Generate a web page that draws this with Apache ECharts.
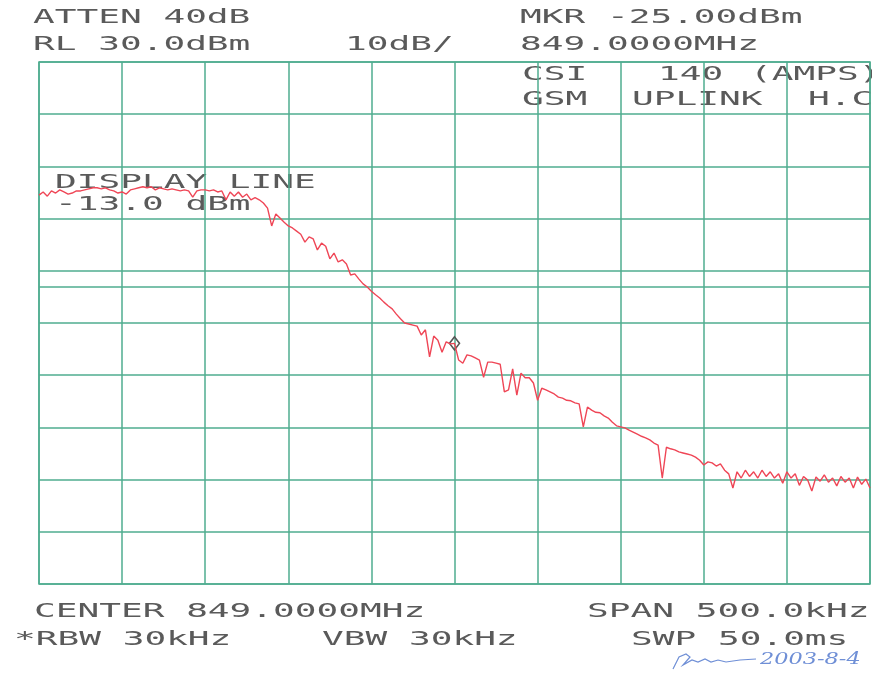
<!DOCTYPE html>
<html>
<head>
<meta charset="utf-8">
<script src="https://cdn.jsdelivr.net/npm/echarts@6/dist/echarts.min.js"></script>
<style>
html,body{margin:0;padding:0;background:#fff;}
#c{width:872px;height:674px;}
</style>
</head>
<body>
<div id="c"></div>
<script>
// Sweep: center 849.0000 MHz, span 500 kHz, 201 trace points (offset in kHz from center)
const spanStartKHz = -250;
const spanStepKHz = 2.5;
// Trace amplitudes in dBm
const traceDbm = [
 4.5,5.1,4.3,5.3,4.9,5.5,5.1,4.7,4.9,5.3,
 5.3,5.5,5.7,5.9,5.9,5.7,5.9,5.5,5.3,4.9,
 5.1,4.7,5.5,5.7,5.9,6.1,5.9,6.1,5.5,5.9,
 5.7,5.5,5.7,5.5,5.3,5.5,5.3,4.1,5.3,5.5,
 5.5,5.3,5.5,5.1,5.3,3.6,5.1,4.3,5.1,4.1,
 4.7,3.6,4.0,3.6,3.0,2.0,-1.4,0.9,0.1,-0.7,
 -1.4,-1.8,-2.4,-3.0,-4.5,-3.5,-3.9,-6.0,-4.7,-5.3,
 -7.7,-6.6,-8.3,-7.9,-8.7,-10.8,-10.6,-11.6,-12.5,-13.1,
 -13.9,-14.6,-15.2,-16.0,-16.7,-17.3,-18.3,-19.2,-20.0,-20.2,
 -20.4,-20.6,-22.3,-21.3,-26.5,-22.5,-23.3,-25.6,-23.6,-24.0,
 -23.9,-27.1,-27.7,-26.1,-26.3,-26.7,-27.1,-30.4,-27.5,-27.5,
 -27.7,-27.9,-33.2,-32.8,-28.8,-33.8,-29.6,-30.5,-30.5,-31.5,
 -34.8,-32.5,-32.8,-33.2,-33.6,-34.2,-34.4,-34.8,-34.9,-35.3,
 -35.5,-39.9,-36.1,-36.7,-37.1,-37.2,-37.8,-38.2,-39.0,-39.7,
 -39.9,-40.1,-40.5,-40.9,-41.3,-41.7,-42.0,-42.4,-43.0,-43.4,
 -49.7,-43.8,-44.1,-44.3,-44.7,-44.9,-45.1,-45.3,-45.7,-46.3,
 -47.2,-46.6,-46.8,-47.4,-47.0,-48.2,-48.9,-51.6,-48.5,-49.7,
 -48.2,-49.4,-48.5,-49.7,-48.2,-49.4,-48.5,-49.7,-48.9,-50.7,
 -48.5,-49.7,-48.9,-51.1,-49.4,-50.1,-52.2,-49.5,-50.3,-49.1,
 -50.5,-49.7,-51.2,-49.4,-50.5,-49.7,-51.6,-49.5,-50.9,-49.9,
 -51.6
];
// Marker (at center frequency) and display line
const markerKHz = 0;
const markerDbm = -23.9;
const displayLineDbm = -13.0;
// Axis: reference level 30 dBm, 10 dB/div, 10 divisions
const yTop = 30, yBottom = -70, yStep = 10;
const xMin = -250, xMax = 250, xStep = 50;

const traceData = traceDbm.map((v, i) => [spanStartKHz + i * spanStepKHz, v]);

const GREEN = '#4fac8f';
const INK = '#5a5a5a';
const FONT = '"DejaVu Sans Mono", "Liberation Mono", monospace';
const FS = 19;
const SX = 1.9;

function label(text, x, y, extra) {
  return Object.assign({
    type: 'text', x: x, y: y, scaleX: SX, scaleY: 1,
    style: { text: text, fill: INK, font: FS + 'px ' + FONT, textAlign: 'left', textVerticalAlign: 'middle' }
  }, extra || {});
}

const chart = echarts.init(document.getElementById('c'), null, { renderer: 'canvas' });
chart.setOption({
  animation: false,
  backgroundColor: '#ffffff',
  grid: { left: 39, right: 2, top: 62, bottom: 90, show: true, borderColor: GREEN, borderWidth: 1.5, backgroundColor: 'transparent' },
  xAxis: {
    type: 'value', min: xMin, max: xMax, interval: xStep,
    axisLine: { show: false }, axisTick: { show: false }, axisLabel: { show: false },
    splitLine: { show: true, lineStyle: { color: GREEN, width: 1.5 } }
  },
  yAxis: {
    type: 'value', min: yBottom, max: yTop, interval: yStep,
    axisLine: { show: false }, axisTick: { show: false }, axisLabel: { show: false },
    splitLine: { show: true, lineStyle: { color: GREEN, width: 1.5 } }
  },
  series: [{
    type: 'line',
    data: traceData,
    showSymbol: false,
    lineStyle: { color: '#ef4656', width: 1.4 },
    z: 5,
    markLine: {
      silent: true, symbol: 'none', label: { show: false },
      lineStyle: { color: GREEN, width: 1.5, type: 'solid' },
      data: [{ yAxis: displayLineDbm }]
    },
    markPoint: {
      silent: true,
      symbol: 'diamond', symbolSize: [10, 13],
      itemStyle: { color: 'rgba(255,255,255,0)', borderColor: '#555', borderWidth: 1.6 },
      label: { show: false },
      data: [{ coord: [markerKHz, markerDbm] }]
    }
  }],
  graphic: [
    label('ATTEN 40dB', 33, 18),
    label('RL 30.0dBm', 33, 45),
    label('10dB/', 345, 45),
    label('MKR -25.00dBm', 520, 18),
    label('849.0000MHz', 520, 45),
    label('CSI', 522, 75),
    label('140', 658, 75),
    label('(AMPS)', 750, 75),
    label('GSM', 522, 100),
    label('UPLINK', 632, 100),
    label('H.C', 808, 100),
    label('DISPLAY LINE', 55, 183),
    label('-13.0 dBm', 55, 205),
    label('CENTER 849.0000MHz', 34, 612),
    label('SPAN 500.0kHz', 587, 612),
    label('*RBW 30kHz', 14, 640),
    label('VBW 30kHz', 322, 640),
    label('SWP 50.0ms', 631, 640),
    {
      type: 'polyline',
      shape: { points: [[673,669],[679,657],[686,654],[690,657],[683,665],[692,660],[698,662],[705,659],[711,662],[718,660],[726,662],[740,660],[756,659]] },
      style: { stroke: '#6f8fd6', lineWidth: 1.2, fill: null }
    },
    {
      type: 'text', x: 760, y: 660, scaleX: 1.4,
      style: { text: '2003-8-4', fill: '#6f8fd6', font: 'italic 16px "DejaVu Serif", serif', textAlign: 'left', textVerticalAlign: 'middle' }
    }
  ]
});
</script>
</body>
</html>
